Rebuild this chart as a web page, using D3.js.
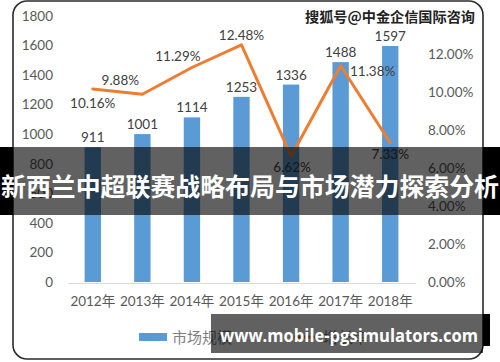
<!DOCTYPE html>
<html>
<head>
<meta charset="utf-8">
<script src="https://cdn.jsdelivr.net/npm/d3@7"></script>
<style>
  html, body { margin: 0; padding: 0; background: #fff; }
  svg { display: block; }
  text { font-family: Lato, "Noto Sans CJK SC", sans-serif; }
</style>
</head>
<body>
<div id="chart"></div>
<script>
const years = ["2012年", "2013年", "2014年", "2015年", "2016年", "2017年", "2018年"];
const marketSize = [911, 1001, 1114, 1253, 1336, 1488, 1597];
const growthRate = [10.16, 9.88, 11.29, 12.48, 6.62, 11.38, 7.33];
const leftTicks = [0, 200, 400, 600, 800, 1000, 1200, 1400, 1600, 1800];
const rightTicks = [0, 2, 4, 6, 8, 10, 12];
const legendNames = ["市场规模", "增长率"];
const titleText = "新西兰中超联赛战略布局与市场潜力探索分析";
const watermark = "搜狐号@中金企信国际咨询";
const siteText = "www.mobile-pgsimulators.com";

// label nudges for the percentage labels (dx, dy from the point)
const rateLabelNudge = [[0, 14], [-22, -14], [-14, -11], [0, -10], [1, 11], [32, 5], [0, 11]];

const W = 500, H = 362;
const svg = d3.select("#chart").append("svg").attr("width", W).attr("height", H);

// frame
svg.append("rect").attr("x", 13).attr("y", 1).attr("width", 470).attr("height", 358)
  .attr("rx", 14).attr("fill", "#fff").attr("stroke", "#2b2b2b").attr("stroke-width", 1.6);

const x = d3.scaleBand().domain(years).range([68, 415]).paddingInner(0.67).paddingOuter(0.335);
const y = d3.scaleLinear().domain([0, 1800]).range([282, 16]);
const yr = d3.scaleLinear().domain([0, 14]).range([282, 16]);
const cx = d => x(d) + x.bandwidth() / 2;

const axisCol = "#595959";

// left axis
const gl = svg.append("g").attr("transform", "translate(53,0)")
  .call(d3.axisLeft(y).tickValues(leftTicks).tickSize(0).tickPadding(0).tickFormat(d3.format("d")));
gl.select(".domain").remove();
gl.selectAll("text").style("fill", axisCol).style("font-size", "13.5px").style("font-family", "Lato, sans-serif");

// right axis
const gr = svg.append("g").attr("transform", "translate(428,0)")
  .call(d3.axisRight(yr).tickValues(rightTicks).tickSize(0).tickPadding(0).tickFormat(d => d.toFixed(2) + "%"));
gr.select(".domain").remove();
gr.selectAll("text").style("fill", axisCol).style("font-size", "13.5px").style("font-family", "Lato, sans-serif");

// bottom axis
const gb = svg.append("g").attr("transform", "translate(0,283)")
  .call(d3.axisBottom(x).tickSize(0).tickPadding(13));
gb.select(".domain").attr("stroke", "#d9d9d9").attr("stroke-width", 1.2);
gb.selectAll("text").style("fill", axisCol).style("font-size", "13.5px");

// bars
svg.selectAll(".bar").data(marketSize).join("rect").attr("class", "bar")
  .attr("x", (d, i) => x(years[i])).attr("width", x.bandwidth())
  .attr("y", d => y(d)).attr("height", d => y(0) - y(d))
  .attr("fill", "#5b9bd5");

svg.selectAll(".blab").data(marketSize).join("text").attr("class", "blab")
  .attr("x", (d, i) => cx(years[i])).attr("y", d => y(d) - 5)
  .attr("text-anchor", "middle").style("font-size", "13.5px").style("fill", "#404040")
  .text(d => d);

// growth line
const line = d3.line().x((d, i) => cx(years[i])).y(d => yr(d));
svg.append("path").datum(growthRate).attr("d", line)
  .attr("fill", "none").attr("stroke", "#ed7d31").attr("stroke-width", 3)
  .attr("stroke-linejoin", "round").attr("stroke-linecap", "round");

svg.selectAll(".rlab").data(growthRate).join("text").attr("class", "rlab")
  .attr("x", (d, i) => cx(years[i]) + rateLabelNudge[i][0])
  .attr("y", (d, i) => yr(d) + rateLabelNudge[i][1])
  .attr("text-anchor", "middle").attr("dominant-baseline", "central")
  .style("font-size", "13.5px").style("fill", "#404040")
  .text(d => d.toFixed(2) + "%");

// legend
const lg = svg.append("g");
lg.append("rect").attr("x", 139).attr("y", 333).attr("width", 28).attr("height", 8).attr("fill", "#5b9bd5");
lg.append("text").attr("x", 172).attr("y", 337).attr("dominant-baseline", "central")
  .style("font-size", "15px").style("fill", "#7f7f7f").text(legendNames[0]);
lg.append("line").attr("x1", 290).attr("x2", 318).attr("y1", 337).attr("y2", 337)
  .attr("stroke", "#ed7d31").attr("stroke-width", 3);
lg.append("text").attr("x", 323).attr("y", 337).attr("dominant-baseline", "central")
  .style("font-size", "15px").style("fill", "#7f7f7f").text(legendNames[1]);

// watermark
svg.append("text").attr("x", 390).attr("y", 16).attr("text-anchor", "middle").attr("dominant-baseline", "central")
  .style("font-family", "'Noto Sans CJK SC', sans-serif").style("font-weight", 700).style("font-size", "14px")
  .style("fill", "#222").attr("stroke", "#fff").attr("stroke-width", 0.6).attr("paint-order", "stroke")
  .attr("textLength", 170).attr("lengthAdjust", "spacingAndGlyphs")
  .text(watermark);

// title band
svg.append("rect").attr("x", 0).attr("y", 147).attr("width", 13).attr("height", 68).attr("fill", "#000");
svg.append("rect").attr("x", 483).attr("y", 147).attr("width", 17).attr("height", 68).attr("fill", "#000");
svg.append("rect").attr("x", 13).attr("y", 147).attr("width", 470).attr("height", 68).attr("fill", "rgba(0,0,0,0.62)");
svg.append("text").attr("x", 250).attr("y", 185).attr("text-anchor", "middle").attr("dominant-baseline", "central")
  .style("font-family", "'Noto Sans CJK SC', sans-serif").style("font-weight", 700).style("font-size", "25px")
  .style("fill", "#fff").attr("textLength", 498).attr("lengthAdjust", "spacingAndGlyphs")
  .text(titleText);

// site band
svg.append("rect").attr("x", 483).attr("y", 314).attr("width", 7).attr("height", 32).attr("fill", "#000");
svg.append("rect").attr("x", 211).attr("y", 314).attr("width", 272).attr("height", 39).attr("fill", "rgba(0,0,0,0.62)");
svg.append("text").attr("x", 349).attr("y", 342).attr("text-anchor", "middle")
  .style("font-family", "'Open Sans', sans-serif").style("font-weight", 700).style("font-size", "17px")
  .style("fill", "#fff").attr("textLength", 258).attr("lengthAdjust", "spacingAndGlyphs")
  .text(siteText);
</script>
</body>
</html>
